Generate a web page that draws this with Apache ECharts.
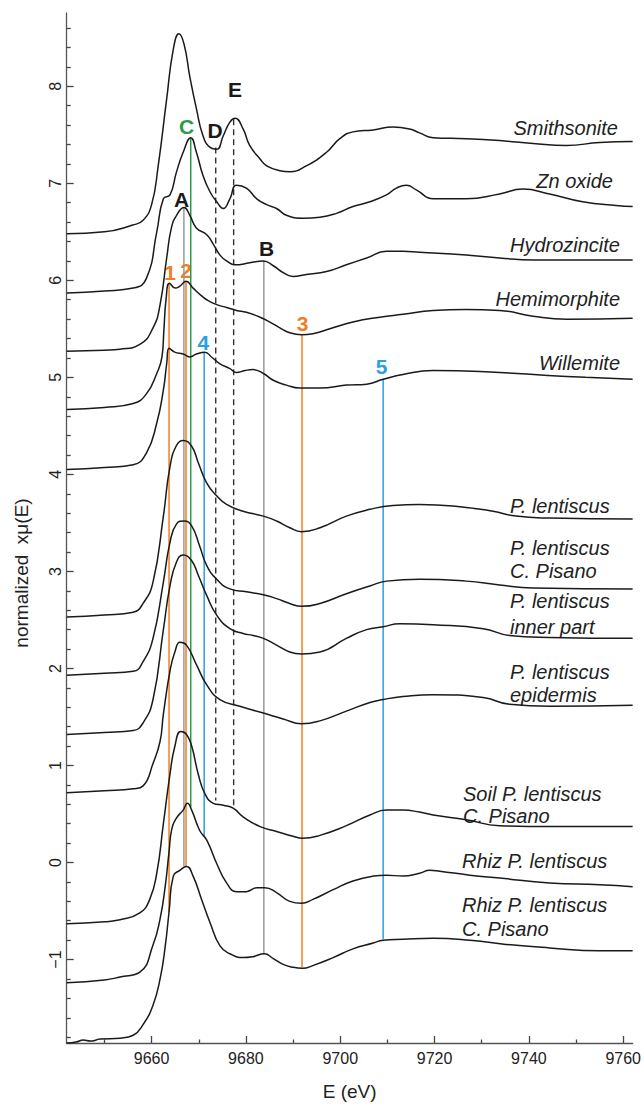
<!DOCTYPE html>
<html><head><meta charset="utf-8">
<script src="https://cdn.jsdelivr.net/npm/echarts@6/dist/echarts.min.js"></script>
<style>html,body{margin:0;padding:0;background:#fff}#c{width:644px;height:1106px}</style>
</head><body><div id="c"></div>
<script>
// ---------- DATA (E in eV, normalized absorption incl. vertical offset) ----------
const smithsonite = [[9642,6.48],[9650,6.50],[9656,6.57],[9658.2,6.62],[9660,6.78],[9661.4,7.18],[9663.2,7.87],[9664.6,8.38],[9665.8,8.54],[9666.9,8.43],[9668.1,8.10],[9669.5,7.77],[9670.9,7.49],[9672.4,7.37],[9673.8,7.35],[9675.2,7.49],[9676.6,7.63],[9677.7,7.67],[9679.4,7.56],[9680.8,7.39],[9683,7.25],[9684.4,7.18],[9687.2,7.13],[9689.3,7.12],[9692.8,7.18],[9697.1,7.32],[9699.9,7.46],[9702.7,7.53],[9707,7.55],[9711.2,7.58],[9714.7,7.56],[9716.8,7.52],[9719.7,7.47],[9726.7,7.46],[9733.8,7.44],[9740.9,7.41],[9747.9,7.39],[9755,7.42],[9762,7.43]];
const znOxide = [[9642,5.87],[9650,5.89],[9656.1,5.92],[9658.9,6.02],[9661.1,6.50],[9662.5,6.84],[9663.9,6.88],[9665.3,7.12],[9666.7,7.32],[9668.3,7.47],[9669.5,7.32],[9670.9,7.08],[9672.4,6.91],[9673.8,6.81],[9675.2,6.74],[9676.6,6.84],[9678,6.98],[9680.1,6.95],[9682.3,6.84],[9684.4,6.78],[9686.5,6.74],[9688.6,6.67],[9692.1,6.64],[9695.7,6.65],[9699.2,6.69],[9702.7,6.76],[9706.3,6.81],[9709.8,6.88],[9711.9,6.95],[9714,6.98],[9716.2,6.93],[9719.7,6.84],[9726.7,6.84],[9733.8,6.89],[9738.7,6.94],[9744.4,6.89],[9751.4,6.81],[9758.5,6.77],[9762,6.76]];
const hydrozincite = [[9642,5.27],[9650,5.28],[9653.3,5.29],[9657.5,5.34],[9660.3,5.51],[9661.8,5.75],[9663.2,6.23],[9664.2,6.54],[9665.3,6.67],[9666.9,6.75],[9668.1,6.67],[9669.5,6.54],[9671.7,6.47],[9673.1,6.37],[9674.5,6.26],[9675.9,6.20],[9677.7,6.16],[9680.8,6.18],[9683.7,6.20],[9685.8,6.15],[9687.9,6.08],[9690,6.04],[9692.8,6.06],[9697.1,6.09],[9701.3,6.16],[9705.6,6.23],[9709.8,6.30],[9713.3,6.30],[9716.8,6.29],[9726.7,6.26],[9733.8,6.23],[9740.9,6.21],[9762,6.21]];
const hemimorphite = [[9642,4.67],[9650,4.69],[9656.1,4.73],[9658.9,4.83],[9661.1,5.04],[9662.2,5.21],[9662.6,5.48],[9663.1,5.82],[9663.8,5.97],[9665,5.92],[9666,5.94],[9667.3,5.99],[9668.8,5.92],[9670.6,5.84],[9672,5.79],[9673.8,5.75],[9675.9,5.72],[9678,5.69],[9680.1,5.67],[9683,5.62],[9685.1,5.57],[9687.2,5.51],[9689.3,5.46],[9691.8,5.44],[9694.2,5.45],[9697.8,5.50],[9702.7,5.57],[9708.4,5.62],[9713.3,5.65],[9719.7,5.69],[9726.7,5.70],[9733.8,5.69],[9740.9,5.63],[9748,5.60],[9762,5.61]];
const willemite = [[9642,4.05],[9650,4.07],[9656.1,4.10],[9658.9,4.22],[9661.1,4.53],[9662.5,4.87],[9663.2,5.14],[9663.7,5.30],[9664.9,5.26],[9666.7,5.24],[9668.1,5.21],[9669.5,5.24],[9671.3,5.26],[9672.7,5.21],[9674.5,5.14],[9676.6,5.09],[9678,5.05],[9679.8,5.07],[9681.5,5.08],[9683.7,5.04],[9685.8,4.97],[9688.6,4.92],[9691.4,4.89],[9695.7,4.89],[9701.3,4.92],[9705.6,4.93],[9709.1,4.98],[9713.3,5.03],[9719.7,5.07],[9733.8,5.05],[9744,5.02],[9752,5.00],[9762,4.98]];
const pLentiscus = [[9642,2.53],[9650,2.55],[9656.1,2.58],[9658.2,2.67],[9660.3,2.89],[9662.5,3.57],[9663.9,4.08],[9665.3,4.30],[9666.7,4.35],[9668.5,4.29],[9669.9,4.12],[9671.7,3.91],[9673.8,3.78],[9675.9,3.69],[9679.4,3.62],[9683.7,3.57],[9686.5,3.52],[9689.3,3.45],[9691.8,3.41],[9695.7,3.45],[9701.3,3.57],[9706.3,3.64],[9711.2,3.68],[9716.8,3.69],[9726.7,3.66],[9732.4,3.62],[9737.3,3.57],[9744.4,3.55],[9762,3.54]];
const pLentiscusCPisano = [[9642,1.93],[9650,1.95],[9656.1,1.97],[9658.2,2.07],[9660.3,2.31],[9662.5,2.89],[9663.9,3.30],[9665.3,3.49],[9666.9,3.52],[9668.5,3.47],[9670.2,3.26],[9671.7,3.06],[9673.8,2.92],[9676.6,2.82],[9680.1,2.79],[9683.7,2.76],[9686.5,2.72],[9689.3,2.67],[9691.8,2.64],[9695.7,2.67],[9701.3,2.77],[9706.3,2.85],[9709.8,2.90],[9716.8,2.92],[9726.7,2.90],[9733.8,2.86],[9740.9,2.83],[9762,2.82]];
const pLentiscusInner = [[9642,1.32],[9650,1.34],[9656.1,1.36],[9658.2,1.44],[9660.3,1.68],[9662.5,2.40],[9663.9,2.85],[9665.3,3.10],[9666.7,3.17],[9668.5,3.11],[9669.9,2.96],[9671.7,2.75],[9673.8,2.55],[9676.6,2.41],[9679.4,2.36],[9681.5,2.34],[9683.7,2.31],[9686.5,2.24],[9689.3,2.17],[9691.8,2.15],[9695.7,2.17],[9701.3,2.31],[9705.6,2.40],[9709.1,2.43],[9712.6,2.46],[9719.7,2.45],[9730.3,2.41],[9735.9,2.34],[9744.4,2.32],[9762,2.31]];
const pLentiscusEpidermis = [[9642,0.72],[9650,0.74],[9656.1,0.76],[9658.2,0.79],[9660.3,1.02],[9661.8,1.25],[9662.5,1.53],[9664,2.0],[9665,2.18],[9666,2.27],[9667.4,2.24],[9669.5,2.04],[9671.7,1.83],[9674.5,1.68],[9678.7,1.61],[9683.7,1.54],[9687.9,1.48],[9691.8,1.43],[9695.7,1.46],[9701.3,1.56],[9706.3,1.65],[9709.1,1.68],[9713.3,1.71],[9719.7,1.73],[9730.3,1.70],[9735.9,1.63],[9744.4,1.61],[9762,1.62]];
const soilCPisano = [[9642,-0.63],[9650,-0.61],[9653.3,-0.59],[9657.5,-0.52],[9659.6,-0.38],[9661.1,-0.11],[9662.5,0.40],[9663.9,0.91],[9664.9,1.19],[9666.2,1.35],[9667.4,1.32],[9668.5,1.20],[9669.9,0.91],[9671.3,0.71],[9673.1,0.61],[9675.2,0.59],[9677.3,0.56],[9679.4,0.47],[9683,0.37],[9686.5,0.32],[9690,0.27],[9692,0.25],[9695.7,0.28],[9701.3,0.38],[9706.3,0.49],[9709.8,0.54],[9713.3,0.54],[9716.8,0.52],[9719.7,0.49],[9726.7,0.44],[9733.8,0.38],[9744.4,0.37],[9762,0.37]];
const rhiz = [[9642,-1.24],[9650,-1.21],[9653.3,-1.18],[9657.5,-1.13],[9660.3,-0.85],[9661.8,-0.58],[9662.9,-0.24],[9663.7,0.11],[9664.3,0.35],[9665.3,0.46],[9666.7,0.54],[9667.6,0.61],[9668.5,0.54],[9670.2,0.33],[9671.7,0.23],[9673.8,-0.01],[9675.9,-0.21],[9678,-0.30],[9680.1,-0.30],[9682.3,-0.26],[9684,-0.26],[9686.5,-0.31],[9689.3,-0.40],[9691.8,-0.42],[9694.2,-0.38],[9698.5,-0.28],[9702.7,-0.19],[9707,-0.14],[9709.8,-0.13],[9713.3,-0.14],[9716.8,-0.11],[9719,-0.08],[9721.1,-0.09],[9727.5,-0.13],[9733.8,-0.16],[9744.4,-0.21],[9755,-0.23],[9762,-0.25]];
const rhizCPisano = [[9642,-1.86],[9644,-1.85],[9645.5,-1.83],[9647,-1.84],[9649.1,-1.82],[9653.3,-1.81],[9656.1,-1.78],[9658.2,-1.67],[9660.3,-1.47],[9661.8,-1.20],[9662.9,-0.86],[9663.7,-0.51],[9664.6,-0.14],[9666,-0.08],[9667.4,-0.04],[9668.8,-0.14],[9670.6,-0.38],[9672.4,-0.62],[9674.5,-0.86],[9676.6,-0.94],[9679.4,-0.98],[9681.5,-0.97],[9683.9,-0.94],[9685.8,-0.99],[9687.9,-1.05],[9690,-1.08],[9692,-1.09],[9694.3,-1.06],[9698.5,-0.98],[9702.7,-0.89],[9707,-0.83],[9709.1,-0.80],[9713.3,-0.79],[9719.6,-0.78],[9727.5,-0.80],[9734.3,-0.84],[9744.4,-0.88],[9755,-0.91],[9762,-0.91]];

// feature markers (vertical lines)
const markNames  = ['1','2','A','C','4','D','E','B','3','5'];
const markE      = [9663.7, 9667.3, 9666.85, 9668.3, 9671.15, 9673.6, 9677.4, 9683.8, 9691.9, 9709.1];
const markTop    = [5.97, 5.99, 6.75, 7.47, 5.25, 7.37, 7.66, 6.20, 5.44, 4.98];
const markBottom = [-0.51, -0.04, -0.04, 0.57, 0.27, 0.64, 0.57, -0.94, -1.08, -0.79];

// tick labels
const xTickValues = [9660, 9680, 9700, 9720, 9740, 9760];
const yTickValues = [-1, 0, 1, 2, 3, 4, 5, 6, 7, 8];

// ---------- STYLE / LAYOUT ----------
const FONT = '"Liberation Sans", Arial, Helvetica, sans-serif';
const ORANGE = '#EF7F22', BLUE = '#2A9FE2', GREEN = '#2C9A48', GRAY = '#9a9a9a', DASH = '#333';
const markStyle = [
  {c:ORANGE}, {c:ORANGE}, {c:GRAY}, {c:GREEN}, {c:BLUE},
  {c:DASH, d:true}, {c:DASH, d:true}, {c:GRAY}, {c:ORANGE}, {c:BLUE}
];
const spectra = [
  ['Smithsonite', smithsonite], ['Zn oxide', znOxide], ['Hydrozincite', hydrozincite],
  ['Hemimorphite', hemimorphite], ['Willemite', willemite], ['P. lentiscus', pLentiscus],
  ['P. lentiscus C. Pisano', pLentiscusCPisano], ['P. lentiscus inner part', pLentiscusInner],
  ['P. lentiscus epidermis', pLentiscusEpidermis], ['Soil P. lentiscus C. Pisano', soilCPisano],
  ['Rhiz P. lentiscus', rhiz], ['Rhiz P. lentiscus C. Pisano', rhizCPisano]
];
// label placement (pixels)
const nameLayout = [
  ['Smithsonite', 618, 128, 'right'], ['Zn oxide', 613, 181, 'right'],
  ['Hydrozincite', 620, 245, 'right'], ['Hemimorphite', 620, 299, 'right'],
  ['Willemite', 620, 363, 'right'],
  ['P. lentiscus', 510, 506, 'left'],
  ['P. lentiscus', 510, 548, 'left'], ['C. Pisano', 510, 571, 'left'],
  ['P. lentiscus', 510, 601, 'left'], ['inner part', 510, 627, 'left'],
  ['P. lentiscus', 510, 672, 'left'], ['epidermis', 510, 695, 'left'],
  ['Soil P. lentiscus', 463, 794, 'left'], ['C. Pisano', 463, 816, 'left'],
  ['Rhiz P. lentiscus', 462, 861, 'left'],
  ['Rhiz P. lentiscus', 462, 905, 'left'], ['C. Pisano', 462, 929, 'left']
];
const letterLayout = [
  ['E', 235, 89, '#1a1a1a'], ['C', 186.7, 126, GREEN], ['D', 215, 130, '#1a1a1a'],
  ['A', 181.7, 199, '#1a1a1a'], ['B', 266.7, 248.5, '#1a1a1a'],
  ['1', 170, 272.5, ORANGE], ['2', 186, 270, ORANGE], ['3', 302.7, 323.5, ORANGE],
  ['4', 203.3, 342.5, BLUE], ['5', 381.7, 366, BLUE]
];

const X_MIN = 9642, X_MAX = 9762, Y_MIN = -1.86, Y_MAX = 8.755;
const xMinor = [], yMinor = [];
for (let v = 9650; v < X_MAX; v += 20) xMinor.push(v);
for (let k = -9; k <= 43; k++) { if (k % 5 !== 0) yMinor.push(Math.round(k * 2) / 10); }

const series = [];
markE.forEach((e, i) => {
  series.push({
    type: 'line', name: 'feature ' + markNames[i], silent: true, symbol: 'none', z: 1,
    data: [[e, markTop[i]], [e, markBottom[i]]],
    lineStyle: { color: markStyle[i].c, width: markStyle[i].d ? 1.4 : 1.5, type: markStyle[i].d ? [6, 4] : 'solid' }
  });
});
spectra.forEach(([name, data]) => {
  series.push({
    type: 'line', name, data, silent: true, symbol: 'none', z: 3,
    smooth: 0.5,
    lineStyle: { color: '#1a1a1a', width: 1.5 }
  });
});

const graphic = [];
nameLayout.forEach(([t, x, y, a]) => graphic.push({
  type: 'text', x, y, silent: true,
  style: { text: t, fontSize: 20, fontStyle: 'italic', fontFamily: FONT, fill: '#222', align: a, verticalAlign: 'middle' }
}));
letterLayout.forEach(([t, x, y, c]) => graphic.push({
  type: 'text', x, y, silent: true,
  style: { text: t, fontSize: 21, fontWeight: 'bold', fontFamily: FONT, fill: c, align: 'center', verticalAlign: 'middle' }
}));
graphic.push({
  type: 'text', x: 21, y: 573, rotation: Math.PI / 2, silent: true,
  style: { text: 'normalized  xμ(E)', fontSize: 19, fontFamily: FONT, fill: '#222', align: 'center', verticalAlign: 'middle' }
});

const axisLineStyle = { color: '#555', width: 1.3 };
const tickLineStyle = { color: '#444', width: 1.3 };
const fmtY = v => (v < 0 ? '\u2212' + Math.abs(v) : String(v));

const option = {
  animation: false,
  backgroundColor: '#fff',
  grid: { left: 66.7, right: 11, top: 13, bottom: 55, containLabel: false },
  xAxis: [{
    type: 'value', min: X_MIN, max: X_MAX, position: 'bottom',
    axisLine: { show: true, onZero: false, lineStyle: axisLineStyle },
    axisTick: { show: true, inside: true, length: 7, customValues: xTickValues, lineStyle: tickLineStyle },
    axisLabel: { customValues: xTickValues, formatter: v => String(v), margin: 7, fontSize: 16, color: '#222', fontFamily: FONT },
    splitLine: { show: false },
    name: 'E (eV)', nameLocation: 'middle', nameGap: 39,
    nameTextStyle: { fontSize: 19, color: '#222', fontFamily: FONT }
  }, {
    type: 'value', min: X_MIN, max: X_MAX, position: 'bottom',
    axisLine: { show: false, onZero: false }, axisLabel: { show: false }, splitLine: { show: false },
    axisTick: { show: true, inside: true, length: 3.5, customValues: xMinor, lineStyle: tickLineStyle }
  }],
  yAxis: [{
    type: 'value', min: Y_MIN, max: Y_MAX, position: 'left',
    axisLine: { show: true, onZero: false, lineStyle: axisLineStyle },
    axisTick: { show: true, inside: true, length: 7, customValues: yTickValues, lineStyle: tickLineStyle },
    axisLabel: { customValues: yTickValues, formatter: fmtY, rotate: 90, margin: 3, fontSize: 16, color: '#222', fontFamily: FONT },
    splitLine: { show: false }
  }, {
    type: 'value', min: Y_MIN, max: Y_MAX, position: 'left',
    axisLine: { show: false, onZero: false }, axisLabel: { show: false }, splitLine: { show: false },
    axisTick: { show: true, inside: true, length: 4, customValues: yMinor, lineStyle: tickLineStyle }
  }],
  series,
  graphic
};

const chart = echarts.init(document.getElementById('c'), null, { renderer: 'svg', width: 644, height: 1106 });
chart.setOption(option);
</script></body></html>
